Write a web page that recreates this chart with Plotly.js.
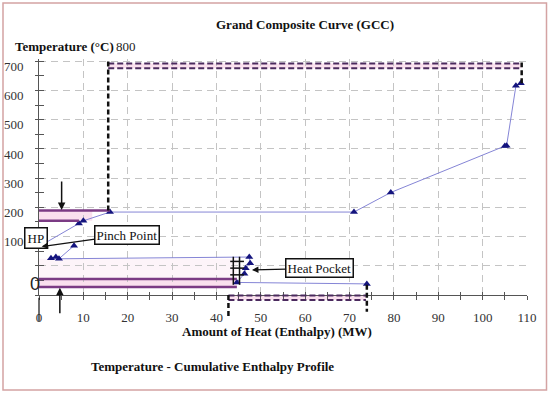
<!DOCTYPE html>
<html><head><meta charset="utf-8">
<script src="https://cdn.plot.ly/plotly-3.0.1.min.js"></script>
<style>html,body{margin:0;padding:0;background:#fff}#c{width:550px;height:393px}</style>
</head><body><div id="c"></div>
<script>
// GCC curve points (MW, degC); null separates segments
const heatMW = [108.6,107.5,105.4,105.0,79.3,71.0,16.0,10.0,9.0,0.0,null,2.7,3.8,null,7.9,4.5,47.4,47.6,46.6,46.3,44.6,73.9];
const tempC  = [625,616,411,410,251,184,184,154,145,66,null,26,30,null,69,24,30,9,-8,-27,-57,-62];
const xTickVals = [0,10,20,30,40,50,60,70,80,90,100,110];
const xTickText = ['0','10','20','30','40','50','60','70','80','90','100','110'];
const yTickVals = [0,100,200,300,400,500,600,700];
const yTickText = ['','100','200','300','400','500','600','700'];

const X0=0, X1=110, Y0=-100, Y1=708;
const px = x => (x-X0)/(X1-X0);
const py = y => (y-Y0)/(Y1-Y0);
const serif = 'Liberation Serif';
const purple = '#7b3b84', dpurple = '#4b2a5e', pink = '#fae0ee', pale = '#fdf4f9';

function line(x0,y0,x1,y1,color,width,dash){
  return {type:'line',xref:'paper',yref:'paper',x0:px(x0),y0:py(y0),x1:px(x1),y1:py(y1),
    line:{color:color,width:width,dash:dash||'solid'},layer:'above'};
}
function rect(x0,y0,x1,y1,fill){
  return {type:'rect',xref:'paper',yref:'paper',x0:px(x0),y0:py(y0),x1:px(x1),y1:py(y1),
    fillcolor:fill,line:{width:0},layer:'below'};
}
const shapes = [
  rect(0,-45,44.6,24,pale), rect(0,-73,44.6,-45,pink),
  line(0,-45,44.6,-45,purple,2.5), line(0,-73,44.6,-73,purple,2.5),
  rect(0,154,12,189,pink),
  line(0,189,16,189,purple,2.5), line(0,154,9,154,purple,2.5),
  rect(15.6,676,108.8,693,pink),
  line(15.6,693,108.8,693,dpurple,2,'6px,3px'), line(15.6,676,108.8,676,dpurple,2,'6px,3px'),
  line(15.6,189,15.6,708,'#111',2.5,'5px,3px'),
  line(108.8,625,108.8,696,'#111',2.5,'5px,3px'),
  rect(42.7,-117,73.7,-102,pink),
  line(42.7,-102,73.7,-102,dpurple,2,'6px,3px'), line(42.7,-117,73.7,-117,dpurple,2,'6px,3px'),
  line(42.7,-100,42.7,-178,'#111',2.5,'5px,3px'),
  line(73.9,-65,73.9,-157,'#111',2.5,'5px,3px'),
  line(43.8,31,43.8,-65,'#111',1.5), line(45.2,31,45.2,-65,'#111',1.5),
  line(43.1,15,46.2,15,'#111',1.5), line(43.1,-8,46.2,-8,'#111',1.5), line(43.1,-31,46.2,-31,'#111',1.5),
  line(0,-109,0,-191,'#111',1.2),
  {type:'rect',xref:'paper',yref:'paper',x0:(3-39)/488,x1:(546.5-39)/488,y0:(295-390)/236,y1:(295-3)/236,
   line:{color:'#d4a3a3',width:1.5},fillcolor:'rgba(0,0,0,0)',layer:'above'}
];

const annotations = [
  {xref:'paper',yref:'paper',x:(305-39)/488,y:(295-15)/236,text:'<b>Grand Composite Curve (GCC)</b>',showarrow:false,font:{family:serif,size:13,color:'#111'}},
  {xref:'paper',yref:'paper',x:(13-39)/488,y:(295-37)/236,xanchor:'left',text:'<b>Temperature (°C)</b>',showarrow:false,font:{family:serif,size:13,color:'#111'}},
  {xref:'paper',yref:'paper',x:(114-39)/488,y:(295-37)/236,xanchor:'left',text:'800',showarrow:false,font:{family:serif,size:13,color:'#222'}},
  {xref:'paper',yref:'paper',x:(28-39)/488,y:(295-296)/236,text:'0',showarrow:false,font:{family:'Liberation Sans',size:18,color:'#222'}},
  {xref:'paper',yref:'paper',x:(277-39)/488,y:(295-341)/236,text:'<b>Amount of Heat (Enthalpy) (MW)</b>',showarrow:false,font:{family:serif,size:13,color:'#111'}},
  {xref:'paper',yref:'paper',x:(212-39)/488,y:(295-376)/236,text:'<b>Temperature - Cumulative Enthalpy Profile</b>',showarrow:false,font:{family:serif,size:13,color:'#111'}},
  {xref:'paper',yref:'paper',x:px(-3.3),y:py(56),text:'HP',showarrow:false,font:{family:serif,size:13,color:'#111'},
   bordercolor:'#111',borderwidth:1.5,borderpad:2,bgcolor:'#fff'},
  {x:0.6,y:66,axref:'x',ayref:'y',ax:19.9,ay:106,text:'Pinch Point',showarrow:true,arrowhead:2,arrowsize:1,arrowwidth:1.3,arrowcolor:'#111',
   font:{family:serif,size:13,color:'#111'},bordercolor:'#111',borderwidth:1.5,borderpad:1,bgcolor:'#fff'},
  {x:48,y:-14,axref:'x',ayref:'y',ax:63.3,ay:-9,text:'Heat Pocket',showarrow:true,arrowhead:2,arrowsize:1,arrowwidth:1.3,arrowcolor:'#111',
   font:{family:serif,size:13,color:'#111'},bordercolor:'#111',borderwidth:1.5,borderpad:1,bgcolor:'#fff'},
  {x:5.1,y:191,axref:'x',ayref:'y',ax:5.1,ay:294,text:'',showarrow:true,arrowhead:2,arrowsize:1,arrowwidth:1.5,arrowcolor:'#111'},
  {x:4.7,y:-75,axref:'x',ayref:'y',ax:4.7,ay:-168,text:'',showarrow:true,arrowhead:2,arrowsize:1,arrowwidth:1.5,arrowcolor:'#111'}
];

const traces = [
  {x:heatMW,y:tempC,type:'scatter',mode:'lines+markers',connectgaps:false,
   line:{color:'#8585d6',width:1},marker:{symbol:'triangle-up',size:7,color:'#14147e'},cliponaxis:false,hoverinfo:'skip'},
  {x:[null],y:[null],xaxis:'x2',yaxis:'y',showlegend:false,hoverinfo:'skip'},
  {x:[null],y:[null],xaxis:'x',yaxis:'y2',showlegend:false,hoverinfo:'skip'}
];

const gridDash = '7px,5px';
const layout = {
  width:550,height:393,paper_bgcolor:'#fff',plot_bgcolor:'#fff',showlegend:false,
  margin:{l:39,r:23,t:59,b:98},
  xaxis:{range:[X0,X1],tickvals:xTickVals,ticktext:xTickText,showgrid:true,gridcolor:'#c4c4c4',griddash:gridDash,gridwidth:1,
    zeroline:false,showline:true,linecolor:'#555',linewidth:1,ticks:'outside',ticklen:4,tickcolor:'#555',
    minor:{dtick:5,ticks:'outside',ticklen:4,tickcolor:'#555',showgrid:false},
    ticklabelstandoff:6,tickfont:{family:serif,size:13,color:'#333'}},
  xaxis2:{overlaying:'x',anchor:'y',side:'bottom',range:[X0,X1],dtick:5,tick0:0,ticks:'inside',ticklen:3,tickcolor:'#555',
    showticklabels:false,showgrid:false,zeroline:false,showline:false},
  yaxis:{range:[Y0,Y1],tickvals:yTickVals,ticktext:yTickText,showgrid:true,gridcolor:'#c4c4c4',griddash:gridDash,gridwidth:1,
    zeroline:false,showline:true,linecolor:'#555',linewidth:1,ticks:'outside',ticklen:3,tickcolor:'#555',
    minor:{dtick:50,tick0:0,ticks:'outside',ticklen:3,tickcolor:'#555',showgrid:false},
    ticklabelstandoff:9,ticklabelshift:5,tickfont:{family:serif,size:13,color:'#333'}},
  yaxis2:{overlaying:'y',anchor:'x',side:'left',range:[Y0,Y1],dtick:50,tick0:0,ticks:'inside',ticklen:5,tickcolor:'#555',
    showticklabels:false,showgrid:false,zeroline:false,showline:false},
  shapes:shapes,annotations:annotations
};
Plotly.newPlot('c',traces,layout,{staticPlot:true,displayModeBar:false});
</script></body></html>
